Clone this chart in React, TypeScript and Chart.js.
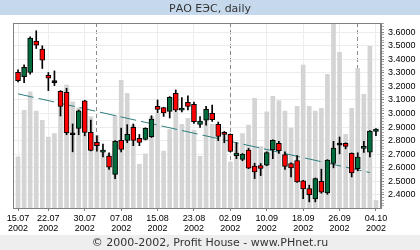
import React, { useEffect, useRef } from 'react';
import { Chart, registerables } from 'chart.js';

Chart.register(...registerables);

const chartTitle = 'РАО ЕЭС, daily';
const footerText = '© 2000-2002, Profit House - www.PHnet.ru';
const year = '2002';

const dates = [
  '15.07', '16.07', '17.07', '18.07', '19.07', '22.07', '23.07', '24.07', '25.07', '26.07',
  '29.07', '30.07', '31.07', '01.08', '02.08', '05.08', '06.08', '07.08', '08.08', '09.08',
  '12.08', '13.08', '14.08', '15.08', '16.08', '19.08', '20.08', '21.08', '22.08', '23.08',
  '26.08', '27.08', '28.08', '29.08', '30.08', '02.09', '03.09', '04.09', '05.09', '06.09',
  '09.09', '10.09', '11.09', '12.09', '13.09', '16.09', '17.09', '18.09', '19.09', '20.09',
  '23.09', '24.09', '25.09', '26.09', '27.09', '30.09', '01.10', '02.10', '03.10', '04.10',
];

const labelDays = [0, 5, 11, 17, 23, 29, 35, 41, 47, 53, 59];

const opens = [
  3.304, 3.272, 3.302, 3.533, 3.474, 3.282, 3.228, 3.164, 3.157, 2.844,
  2.891, 3.093, 2.861, 2.787, 2.716, 2.686, 2.551, 2.802, 2.802, 2.898,
  2.817, 2.809, 2.829, 3.053, 3.043, 3.016, 3.149, 3.024, 3.083, 3.068,
  2.920, 2.952, 3.001, 2.920, 2.861, 2.846, 2.689, 2.662, 2.731, 2.612,
  2.617, 2.620, 2.733, 2.780, 2.698, 2.632, 2.654, 2.504, 2.447, 2.371,
  2.501, 2.415, 2.632, 2.767, 2.780, 2.706, 2.593, 2.743, 2.716, 2.868,
];
const highs = [
  3.322, 3.359, 3.566, 3.610, 3.499, 3.302, 3.314, 3.169, 3.186, 2.923,
  3.026, 3.098, 2.952, 2.836, 2.775, 2.711, 2.800, 2.893, 2.918, 2.923,
  2.846, 2.895, 2.984, 3.100, 3.046, 3.125, 3.174, 3.117, 3.130, 3.085,
  2.977, 3.053, 3.063, 2.937, 2.868, 2.850, 2.785, 2.705, 2.743, 2.634,
  2.632, 2.718, 2.806, 2.795, 2.718, 2.636, 2.691, 2.508, 2.472, 2.525,
  2.590, 2.660, 2.795, 2.827, 2.784, 2.710, 2.711, 2.795, 2.875, 2.890,
];
const lows = [
  3.233, 3.228, 3.290, 3.479, 3.332, 3.169, 3.206, 2.982, 2.844, 2.718,
  2.844, 2.836, 2.724, 2.723, 2.681, 2.588, 2.521, 2.718, 2.785, 2.763,
  2.763, 2.805, 2.824, 3.006, 2.979, 2.967, 3.014, 3.011, 3.026, 2.928,
  2.898, 2.915, 2.942, 2.800, 2.785, 2.717, 2.667, 2.652, 2.594, 2.521,
  2.543, 2.615, 2.667, 2.706, 2.588, 2.533, 2.493, 2.373, 2.349, 2.349,
  2.413, 2.405, 2.600, 2.703, 2.740, 2.533, 2.578, 2.713, 2.681, 2.836,
];
const closes = [
  3.243, 3.341, 3.556, 3.504, 3.393, 3.260, 3.228, 3.053, 2.859, 2.844,
  3.019, 2.861, 2.728, 2.763, 2.720, 2.605, 2.795, 2.735, 2.846, 2.802,
  2.787, 2.891, 2.960, 3.031, 3.004, 3.120, 3.024, 3.041, 3.053, 2.940,
  2.945, 3.031, 2.955, 2.832, 2.846, 2.721, 2.708, 2.701, 2.598, 2.570,
  2.595, 2.713, 2.802, 2.726, 2.610, 2.600, 2.497, 2.445, 2.403, 2.521,
  2.420, 2.657, 2.745, 2.767, 2.758, 2.563, 2.680, 2.747, 2.871, 2.886,
];
const volumes = [
  12.8, 24.4, 29.0, 24.2, 21.9, 17.7, 18.6, 28.8, 30.7, 26.5,
  25.0, 24.8, 22.8, 18.2, 14.0, 13.5, 23.2, 31.9, 28.6, 20.7,
  10.9, 13.5, 22.8, 23.6, 14.2, 19.6, 24.0, 20.9, 22.4, 19.4,
  12.9, 21.9, 20.9, 20.0, 18.6, 11.5, 16.1, 18.6, 20.7, 27.4,
  15.3, 24.0, 27.9, 26.8, 24.2, 19.9, 25.4, 35.7, 25.4, 24.2,
  24.9, 33.4, 50.0, 38.9, 18.4, 24.9, 34.9, 28.4, 40.4, 1.9,
];

const trendX = [0, 58];
const trendY = [3.145, 2.565];

const priceMin = 2.304;
const priceMax = 3.667;
const volumeMax = 46.2;
const dayMin = -0.83;
const dayMax = 59.83;

const monthStarts = dates
  .map((d, i) => (i > 0 && d.slice(3) !== dates[i - 1].slice(3) ? i : -1))
  .filter((i) => i >= 0);

const isMajor = (v: number) => Math.abs(v * 10 - Math.round(v * 10)) < 1e-6;

const bandsPlugin = {
  id: 'bands',
  beforeDraw(chart: any) {
    const { ctx, width, height } = chart;
    ctx.save();
    ctx.fillStyle = '#c6d9ec';
    ctx.fillRect(0, 0, width, 15);
    ctx.fillStyle = '#eeeeee';
    ctx.fillRect(0, 235, width, height - 235);
    ctx.restore();
  },
  afterDatasetsDraw(chart: any) {
    const { ctx, chartArea } = chart;
    ctx.save();
    ctx.strokeStyle = '#808080';
    ctx.lineWidth = 1;
    ctx.strokeRect(
      chartArea.left + 0.5,
      chartArea.top + 0.5,
      chartArea.right - chartArea.left - 1,
      chartArea.bottom - chartArea.top
    );
    ctx.restore();
  },
};

const axisFont = { family: 'Liberation Sans', size: 9 };

export default function App() {
  const ref = useRef<HTMLCanvasElement | null>(null);

  useEffect(() => {
    document.body.style.margin = '0';
    const canvas = ref.current;
    if (!canvas) return;

    const idx = dates.map((_, i) => i);
    const bodyColors = idx.map((i) =>
      closes[i] > opens[i] ? '#006b3c' : closes[i] < opens[i] ? '#ff0000' : '#000000'
    );

    const chart = new Chart(canvas, {
      type: 'bar',
      data: {
        datasets: [
          {
            type: 'bar',
            label: 'volume',
            yAxisID: 'yv',
            xAxisID: 'x',
            data: idx.map((i) => ({ x: i, y: volumes[i] })),
            backgroundColor: '#d4d4d4',
            borderWidth: 0,
            barThickness: 4,
            grouped: false,
            order: 4,
          } as any,
          {
            type: 'line',
            label: 'trend',
            yAxisID: 'y',
            xAxisID: 'x',
            data: trendX.map((x, k) => ({ x, y: trendY[k] })),
            borderColor: '#2e7f7f',
            borderWidth: 1,
            borderDash: [16, 5],
            pointRadius: 0,
            fill: false,
            order: 3,
          } as any,
          {
            type: 'bar',
            label: 'range',
            yAxisID: 'y',
            xAxisID: 'x',
            data: idx.map((i) => ({ x: i, y: [lows[i], highs[i]] })),
            backgroundColor: '#000000',
            borderWidth: 0,
            barThickness: 1,
            grouped: false,
            order: 2,
          } as any,
          {
            type: 'bar',
            label: 'body',
            yAxisID: 'y',
            xAxisID: 'x',
            data: idx.map((i) => ({ x: i, y: [opens[i], closes[i]] })),
            backgroundColor: bodyColors,
            borderColor: '#000000',
            borderWidth: 1,
            borderSkipped: false,
            barThickness: 5,
            minBarLength: 2,
            grouped: false,
            order: 1,
          } as any,
        ],
      },
      options: {
        responsive: false,
        animation: false,
        devicePixelRatio: 1,
        events: [],
        layout: { padding: 0 },
        plugins: {
          legend: { display: false },
          tooltip: { enabled: false },
          title: {
            display: true,
            text: chartTitle,
            color: '#333333',
            font: { family: 'DejaVu Sans', size: 11, weight: 'normal', lineHeight: '12px' } as any,
            padding: { top: 3, bottom: 8 },
          },
          subtitle: {
            display: true,
            position: 'bottom',
            text: footerText,
            color: '#333333',
            font: { family: 'DejaVu Sans', size: 11, weight: 'normal', lineHeight: '13px' } as any,
            padding: { top: 2, bottom: 0 },
          },
        },
        scales: {
          x: {
            type: 'linear',
            position: 'bottom',
            offset: false,
            min: dayMin,
            max: dayMax,
            afterBuildTicks: (axis: any) => {
              axis.ticks = labelDays.map((v) => ({ value: v }));
            },
            afterFit: (s: any) => {
              s.height = 27;
            },
            ticks: {
              autoSkip: false,
              maxRotation: 0,
              minRotation: 0,
              padding: 2,
              color: '#000000',
              font: { ...axisFont, lineHeight: 1.12 },
              callback: (v: any) => [dates[v as number], year],
            },
            grid: { offset: false, color: '#ececec', tickColor: '#808080', tickLength: 3 },
            border: { color: '#808080' },
          },
          xm: {
            type: 'linear',
            position: 'bottom',
            offset: false,
            min: dayMin,
            max: dayMax,
            afterBuildTicks: (axis: any) => {
              axis.ticks = monthStarts.map((v) => ({ value: v }));
            },
            afterFit: (s: any) => {
              s.height = 0;
            },
            ticks: { display: false },
            grid: { offset: false, color: '#8a8a8a', drawTicks: false, lineWidth: 1 },
            border: { display: false, dash: [4, 3] },
          },
          yl: {
            type: 'linear',
            position: 'left',
            afterFit: (s: any) => {
              s.width = 13;
            },
            ticks: { display: false },
            grid: { display: false },
            border: { display: false },
          },
          y: {
            type: 'linear',
            position: 'right',
            min: priceMin,
            max: priceMax,
            afterFit: (s: any) => {
              s.width = 39;
            },
            ticks: {
              stepSize: 0.02,
              autoSkip: false,
              includeBounds: false,
              padding: 4,
              color: '#000000',
              font: axisFont,
              callback: (v: any) => (isMajor(Number(v)) ? Number(v).toFixed(4) : ''),
            },
            grid: {
              color: (ctx: any) =>
                ctx.tick && isMajor(ctx.tick.value) ? '#ececec' : 'rgba(0,0,0,0)',
              tickColor: (ctx: any) =>
                ctx.tick && isMajor(ctx.tick.value) ? '#808080' : '#a8a8a8',
              tickLength: 3,
            },
            border: { color: '#808080' },
          },
          yv: {
            type: 'linear',
            display: false,
            min: 0,
            max: volumeMax,
          },
        },
      } as any,
      plugins: [bandsPlugin],
    });

    return () => {
      chart.destroy();
    };
  }, []);

  return (
    <div style={{ width: 420, height: 250, background: '#ffffff' }}>
      <canvas ref={ref} width={420} height={250} style={{ display: 'block' }} />
    </div>
  );
}
